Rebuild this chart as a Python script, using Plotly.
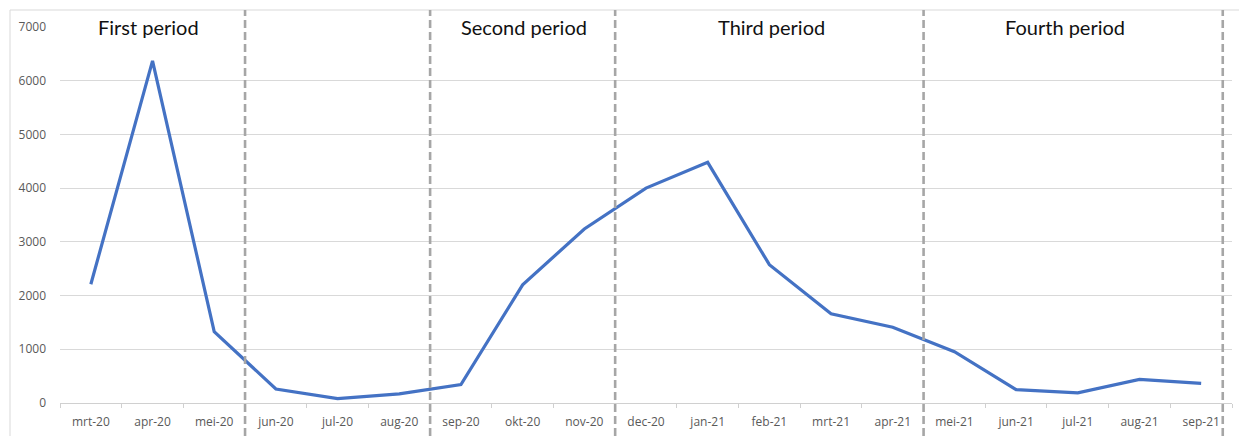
import plotly.graph_objects as go

months = ["mrt-20", "apr-20", "mei-20", "jun-20", "jul-20", "aug-20", "sep-20",
          "okt-20", "nov-20", "dec-20", "jan-21", "feb-21", "mrt-21", "apr-21",
          "mei-21", "jun-21", "jul-21", "aug-21", "sep-21"]
values = [2210, 6370, 1330, 260, 80, 170, 345,
          2200, 3240, 4000, 4480, 2575, 1660, 1410,
          955, 250, 190, 440, 365]
y_ticks = [0, 1000, 2000, 3000, 4000, 5000, 6000, 7000]
period_labels = ["First period", "Second period", "Third period", "Fourth period"]
period_label_pos = [0.93, 7.03, 11.04, 15.8]
period_bounds = [2.5, 5.5, 8.5, 13.5, 18.35]

OFF = 8  # browser body margin
W, H = 1247 - OFF, 436 - OFF
ml, mr, mt, mb = 60 - OFF, 15, 27 - OFF, 33
pw, ph = W - ml - mr, H - mt - mb
top_border = 1 + (27 - 10) / ph

fig = go.Figure()
fig.add_trace(go.Scatter(x=list(range(len(months))), y=values, mode="lines",
                         line=dict(color="#4472C4", width=3.2), showlegend=False,
                         hoverinfo="skip"))

shapes = []
shapes.append(dict(type="rect", xref="paper", yref="paper",
                   x0=(10 - 60) / pw, x1=1.2, y0=-0.3, y1=top_border,
                   line=dict(color="#d9d9d9", width=1), layer="below"))
for b in period_bounds:
    shapes.append(dict(type="line", xref="x", yref="paper", x0=b, x1=b,
                       y0=-0.12, y1=top_border,
                       line=dict(color="#a6a6a6", width=2.6, dash="8px,4px"),
                       layer="above"))

annotations = []
for lab, pos in zip(period_labels, period_label_pos):
    annotations.append(dict(x=pos, y=7000, xref="x", yref="y", text=lab,
                            showarrow=False, xanchor="center", yanchor="middle",
                            font=dict(family="Lato, Open Sans, sans-serif", size=20, color="#111111")))

tickfont = dict(family="Open Sans, sans-serif", size=12, color="#595959")
fig.update_layout(
    width=W, height=H,
    margin=dict(l=ml, r=mr, t=mt, b=mb, autoexpand=False),
    paper_bgcolor="white", plot_bgcolor="white",
    shapes=shapes, annotations=annotations,
    xaxis=dict(tickmode="array", tickvals=list(range(len(months))), ticktext=months,
               range=[-0.5, 18.5], showgrid=False, zeroline=False, automargin=False,
               showline=False, ticks="", tickfont=tickfont, ticklabelstandoff=10),
    yaxis=dict(range=[0, 7000], tickvals=y_ticks, showgrid=True, gridcolor="#d9d9d9",
               gridwidth=1, zeroline=True, zerolinecolor="#d0d0d0", zerolinewidth=1,
               automargin=False,
               showline=False, ticks="", tickfont=tickfont, ticklabelstandoff=13),
    xaxis2=dict(overlaying="x", range=[-0.5, 18.5], tickmode="array",
                tickvals=[i + 0.5 for i in range(-1, len(months))],
                ticks="outside", ticklen=4, tickcolor="#d0d0d0", automargin=False,
                showticklabels=False, showgrid=False, zeroline=False,
                showline=False, side="bottom"),
)
fig.add_trace(go.Scatter(x=[None], y=[None], xaxis="x2", showlegend=False))

fig.write_html("out.html")
